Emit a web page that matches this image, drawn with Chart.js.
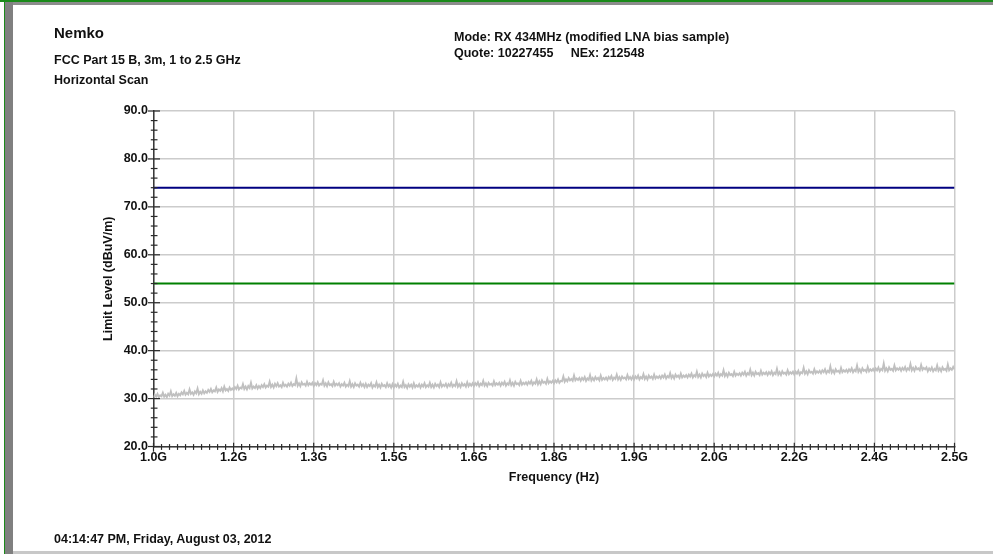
<!DOCTYPE html>
<html>
<head>
<meta charset="utf-8">
<script src="https://cdn.jsdelivr.net/npm/chart.js@4/dist/chart.umd.min.js"></script>
<style>
html,body{margin:0;padding:0;background:#fff;}
body{width:993px;height:554px;position:relative;overflow:hidden;font-family:"Liberation Sans",Arial,sans-serif;font-weight:bold;color:#111;}
#c{position:absolute;left:0;top:0;}
.t{position:absolute;white-space:pre;line-height:1;font-size:12.5px;}
.deco{position:absolute;}
</style>
</head>
<body>
<div class="deco" style="left:0;top:0;width:993px;height:1.5px;background:#1a8a1a;"></div>
<div class="deco" style="left:5px;top:1.5px;width:988px;height:3px;background:#8c8c8c;"></div>
<div class="deco" style="left:3.5px;top:0;width:1.5px;height:554px;background:#1a8a1a;"></div>
<div class="deco" style="left:5px;top:1.5px;width:8px;height:552.5px;background:#808080;"></div>
<div class="deco" style="left:13px;top:551px;width:980px;height:3px;background:#c8c8c8;"></div>
<canvas id="c" width="993" height="554"></canvas>
<div class="t" style="left:54px;top:25px;font-size:15px;">Nemko</div>
<div class="t" style="left:54px;top:53.7px;">FCC Part 15 B, 3m, 1 to 2.5 GHz</div>
<div class="t" style="left:54px;top:73.7px;">Horizontal Scan</div>
<div class="t" style="left:454px;top:31.1px;">Mode: RX 434MHz (modified LNA bias sample)</div>
<div class="t" style="left:454px;top:47.1px;">Quote: 10227455     NEx: 212548</div>
<div class="t" style="left:54px;top:532.7px;">04:14:47 PM, Friday, August 03, 2012</div>
<script>
// Sweep grid (GHz)
const freqStartGHz = 1.0;
const freqStepGHz = 0.0025;
const traceLevel = [
30.2,30.8,30.4,31.0,30.3,30.7,30.5,31.2,30.4,30.8,30.3,31.0,30.6,31.5,30.5,30.9,30.6,31.2,30.5,31.0,
30.7,31.3,30.9,31.6,30.8,31.2,30.9,31.9,31.0,31.3,30.8,31.5,31.1,32.1,30.9,31.4,31.0,31.7,31.1,31.5,
31.2,31.8,31.4,32.0,31.3,31.7,31.5,32.3,31.4,31.9,31.6,32.2,31.5,32.5,31.7,32.0,31.6,32.3,31.8,32.1,
31.8,32.4,32.0,32.7,31.9,32.3,32.1,33.0,32.0,32.5,31.9,32.6,32.2,33.3,32.1,32.5,32.2,32.8,32.1,32.6,
32.2,32.8,32.4,33.0,32.3,32.7,32.5,33.5,32.4,32.9,32.3,33.1,32.6,33.2,32.5,32.8,32.4,33.3,32.6,32.9,
32.5,33.1,32.7,33.3,32.6,33.0,32.8,34.2,32.7,33.2,32.6,33.4,32.9,33.1,32.7,33.5,32.8,33.2,32.9,33.3,
32.6,33.2,32.8,33.4,32.7,33.1,32.9,33.8,32.7,33.2,32.6,33.4,32.8,33.0,32.6,33.5,32.7,33.1,32.8,33.2,
32.5,33.0,32.7,33.3,32.5,32.9,32.6,33.6,32.5,33.0,32.4,33.2,32.7,32.9,32.5,33.3,32.6,33.0,32.4,33.1,
32.4,32.9,32.6,33.2,32.3,32.8,32.5,33.4,32.4,32.9,32.3,33.1,32.6,32.8,32.4,33.2,32.5,32.9,32.3,33.0,
32.3,32.9,32.5,33.1,32.3,32.7,32.4,33.5,32.4,32.8,32.2,33.0,32.5,32.9,32.3,33.2,32.4,32.8,32.5,33.0,
32.3,32.9,32.5,33.2,32.4,32.8,32.5,33.3,32.4,32.9,32.3,33.1,32.6,32.9,32.4,33.4,32.5,32.9,32.6,33.1,
32.4,33.0,32.6,33.3,32.5,32.9,32.6,33.6,32.5,33.0,32.4,33.2,32.7,33.0,32.5,33.4,32.6,33.1,32.7,33.2,
32.6,33.2,32.8,33.4,32.6,33.1,32.8,33.7,32.7,33.2,32.6,33.3,32.9,33.1,32.7,33.6,32.8,33.2,32.9,33.3,
32.7,33.3,32.9,33.5,32.7,33.2,32.9,33.8,32.8,33.3,32.7,33.5,33.0,33.2,32.8,33.7,32.9,33.3,33.0,33.4,
32.9,33.5,33.1,33.7,32.9,33.4,33.1,34.0,33.0,33.6,33.0,33.8,33.3,33.5,33.1,34.1,33.2,33.6,33.3,33.7,
33.2,33.8,33.4,34.0,33.3,33.7,33.6,34.6,33.5,34.0,33.6,34.3,33.8,34.1,33.7,34.8,33.8,34.2,33.9,34.3,
33.7,34.3,33.9,34.5,33.7,34.2,33.9,34.9,33.8,34.3,33.8,34.5,34.0,34.3,33.8,34.8,33.9,34.3,34.0,34.4,
33.9,34.5,34.1,34.7,33.9,34.4,34.1,35.0,34.0,34.5,33.9,34.6,34.2,34.4,34.0,34.9,34.1,34.5,34.0,34.6,
34.0,34.6,34.2,34.8,34.0,34.5,34.2,35.1,34.1,34.6,34.0,34.8,34.3,34.6,34.1,35.0,34.2,34.6,34.3,34.7,
34.2,34.8,34.4,35.0,34.2,34.7,34.4,35.3,34.3,34.8,34.2,35.0,34.5,34.8,34.3,35.2,34.4,34.8,34.5,34.9,
34.4,35.0,34.6,35.2,34.4,34.9,34.6,35.6,34.5,35.0,34.4,35.2,34.7,35.0,34.5,35.4,34.6,35.0,34.7,35.1,
34.6,35.2,34.8,35.4,34.6,35.1,34.8,35.9,34.7,35.2,34.6,35.4,34.9,35.1,34.7,35.6,34.8,35.2,34.9,35.3,
34.8,35.4,35.0,35.6,34.8,35.3,35.0,36.0,34.9,35.4,34.8,35.6,35.1,35.3,34.9,35.8,35.0,35.4,35.1,35.5,
34.9,35.5,35.1,35.7,34.9,35.4,35.1,36.2,35.0,35.5,34.9,35.7,35.2,35.4,35.0,35.9,35.1,35.5,35.2,35.6,
35.0,35.6,35.2,35.8,35.0,35.5,35.3,36.4,35.2,35.7,35.1,35.9,35.4,35.6,35.2,36.1,35.3,35.7,35.4,35.8,
35.3,35.9,35.5,36.1,35.3,35.8,35.5,36.7,35.4,35.9,35.3,36.1,35.6,35.8,35.4,36.4,35.5,35.9,35.6,36.0,
35.5,36.1,35.7,36.3,35.5,36.0,35.7,36.9,35.6,36.1,35.5,36.3,35.8,36.0,35.6,36.6,35.7,36.1,35.8,36.2,
35.7,36.3,35.9,36.5,35.7,36.2,35.9,37.3,35.8,36.3,35.7,36.5,36.0,36.2,35.8,36.9,35.9,36.3,36.0,36.4,
35.8,36.4,36.0,36.6,35.8,36.3,36.0,37.2,35.9,36.4,35.8,36.6,36.1,36.3,35.9,37.0,36.0,36.4,36.1,36.5,
35.7,36.3,35.9,36.5,35.7,36.2,35.9,36.9,35.8,36.3,35.7,36.5,36.0,36.2,35.8,37.1,35.9,36.3,36.0,36.6,
36.1
];
// Limit lines
const limitFreqGHz = [1.0, 2.5];
const limitAverage = [54, 54];
const limitPeak = [74, 74];
// Axes
const xTickValues = [1.0, 1.15, 1.3, 1.45, 1.6, 1.75, 1.9, 2.05, 2.2, 2.35, 2.5];
const xTickLabels = ['1.0G','1.2G','1.3G','1.5G','1.6G','1.8G','1.9G','2.0G','2.2G','2.4G','2.5G'];
const yTickValues = [20, 30, 40, 50, 60, 70, 80, 90];
const yTickLabels = ['20.0','30.0','40.0','50.0','60.0','70.0','80.0','90.0'];

const tickFont = {family: '"Liberation Sans", Arial, sans-serif', size: 12.5, weight: 'bold'};

const minorTicks = {
  id: 'minorTicks',
  afterDraw(chart) {
    const ctx = chart.ctx, xs = chart.scales.x, ys = chart.scales.y;
    const yb = ys.getPixelForValue(yTickValues[0]);
    const xl = xs.getPixelForValue(xTickValues[0]);
    ctx.save();
    ctx.strokeStyle = '#2a2a2a';
    ctx.lineWidth = 1.2;
    const seg = (x1, y1, x2, y2) => { ctx.beginPath(); ctx.moveTo(x1, y1); ctx.lineTo(x2, y2); ctx.stroke(); };
    for (let i = 0; i < xTickValues.length; i++) {
      const px = xs.getPixelForValue(xTickValues[i]);
      seg(px, yb - 3.7, px, yb + 5.2);
      if (i < xTickValues.length - 1) {
        const a = xTickValues[i], b = xTickValues[i + 1];
        for (let k = 1; k < 10; k++) {
          const mx = xs.getPixelForValue(a + (b - a) * k / 10);
          seg(mx, yb - 2.4, mx, yb + 3.4);
        }
      }
    }
    for (let i = 0; i < yTickValues.length; i++) {
      const py = ys.getPixelForValue(yTickValues[i]);
      seg(xl - 5.5, py, xl + 6.5, py);
      if (i < yTickValues.length - 1) {
        const a = yTickValues[i], b = yTickValues[i + 1];
        for (let k = 1; k < 5; k++) {
          const my = ys.getPixelForValue(a + (b - a) * k / 5);
          seg(xl - 2.7, my, xl + 4, my);
        }
      }
    }
    ctx.restore();
  }
};

new Chart(document.getElementById('c'), {
  type: 'line',
  data: {
    datasets: [
      {
        data: traceLevel.map((y, i) => ({x: freqStartGHz + i * freqStepGHz, y})),
        borderColor: '#c0c0c0', borderWidth: 1.9, pointRadius: 0, tension: 0, fill: false
      },
      {
        data: limitFreqGHz.map((x, i) => ({x, y: limitAverage[i]})),
        borderColor: '#008000', borderWidth: 2, pointRadius: 0, fill: false
      },
      {
        data: limitFreqGHz.map((x, i) => ({x, y: limitPeak[i]})),
        borderColor: '#000080', borderWidth: 2, pointRadius: 0, fill: false
      }
    ]
  },
  options: {
    responsive: false,
    devicePixelRatio: 1,
    animation: false,
    layout: {padding: {left: 0, top: 111, right: 38.5, bottom: 0}},
    plugins: {legend: {display: false}, tooltip: {enabled: false}},
    scales: {
      x: {
        type: 'linear', min: 1.0, max: 2.5,
        afterBuildTicks: s => { s.ticks = xTickValues.map(v => ({value: v})); },
        afterFit: s => { s.height = 107.5; },
        grid: {color: '#cccccc', lineWidth: 1.5, drawTicks: false},
        border: {display: true, color: '#3a3a3a', width: 1.5},
        ticks: {
          font: tickFont, color: '#111', padding: 4, maxRotation: 0, autoSkip: false,
          callback: (v, i) => xTickLabels[i]
        },
        title: {display: true, text: 'Frequency (Hz)', font: tickFont, color: '#111', padding: {top: 0, bottom: 68.5}}
      },
      y: {
        type: 'linear', min: 20, max: 90,
        afterBuildTicks: s => { s.ticks = yTickValues.map(v => ({value: v})); },
        afterFit: s => { s.width = 153.5; },
        grid: {color: '#cccccc', lineWidth: 1.5, drawTicks: false},
        border: {display: true, color: '#3a3a3a', width: 1.5},
        ticks: {
          font: tickFont, color: '#111', padding: 5.5,
          callback: (v, i) => yTickLabels[i]
        },
        title: {display: true, text: 'Limit Level (dBuV/m)', font: tickFont, color: '#111', padding: {top: 101.5, bottom: 0}}
      }
    }
  },
  plugins: [minorTicks]
});
</script>
</body>
</html>
